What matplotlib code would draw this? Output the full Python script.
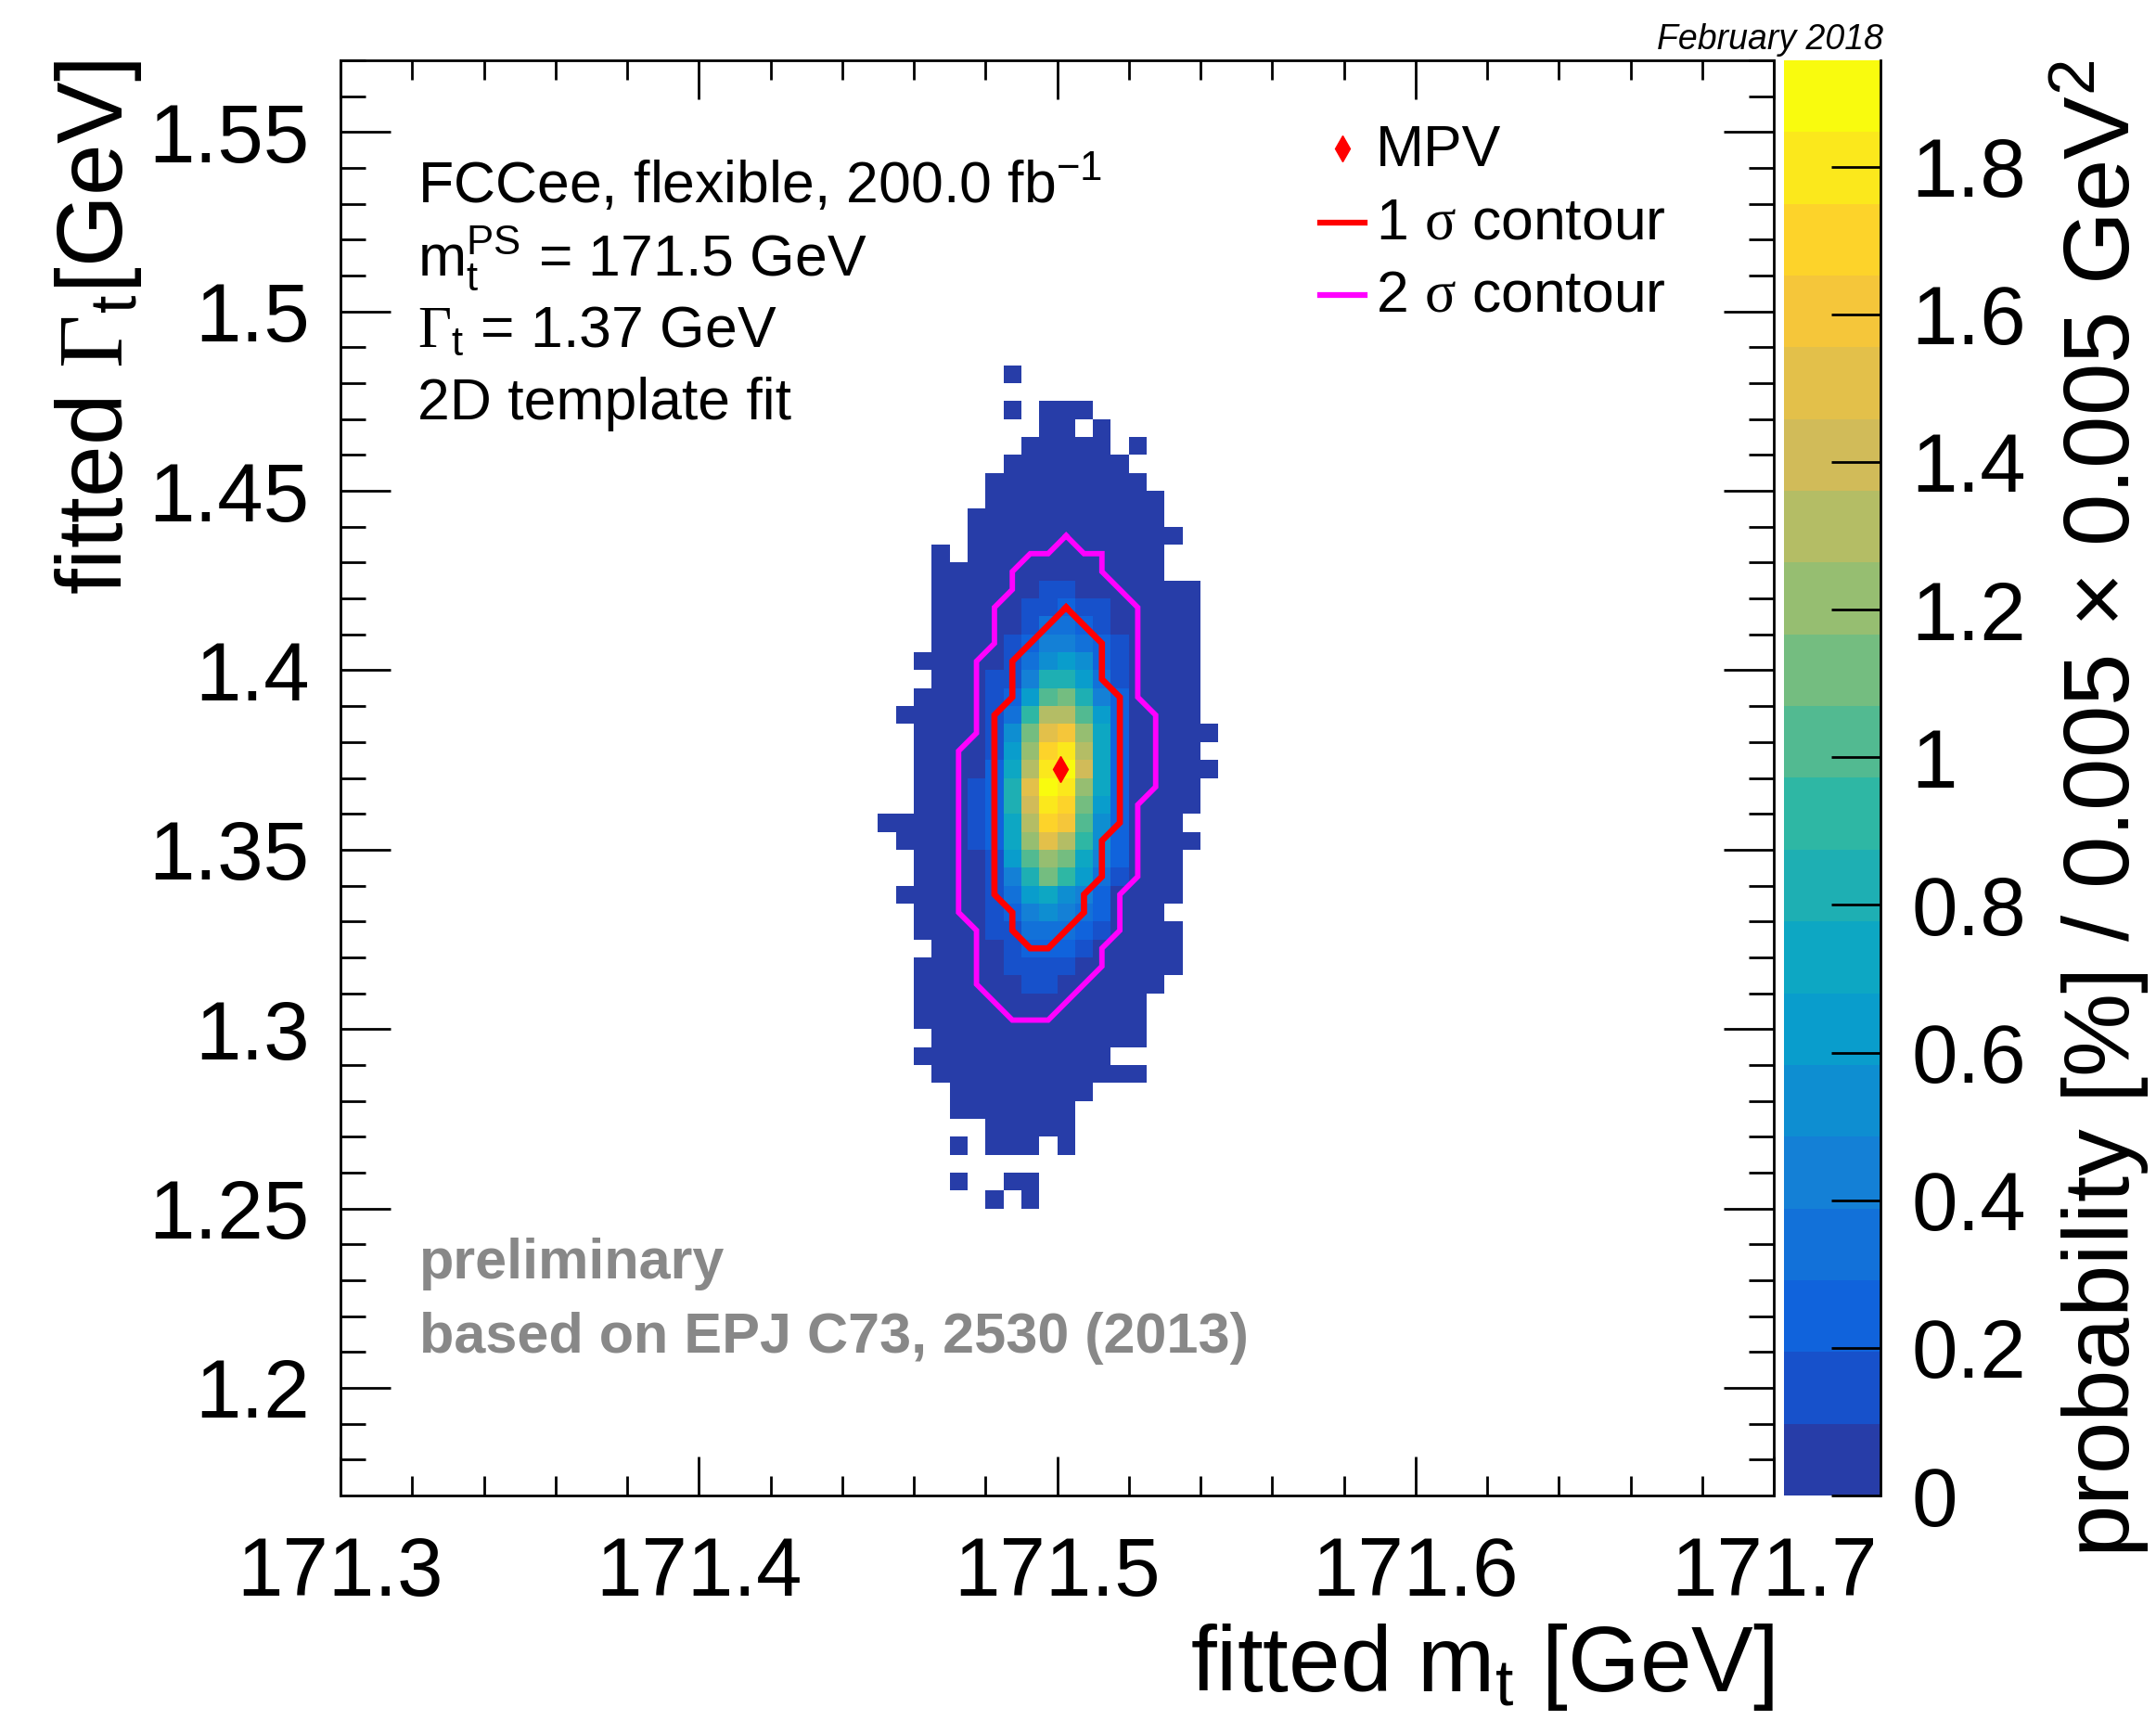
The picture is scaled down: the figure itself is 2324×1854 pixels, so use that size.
import numpy as np
import matplotlib
matplotlib.use('Agg')
import matplotlib.pyplot as plt
from matplotlib.colors import ListedColormap, BoundaryNorm
from matplotlib.lines import Line2D
from matplotlib.ticker import FixedLocator, NullLocator

plt.rcParams['font.family'] = ['Liberation Sans', 'DejaVu Sans']
plt.rcParams['mathtext.fontset'] = 'custom'
plt.rcParams['mathtext.rm'] = 'Liberation Serif'
plt.rcParams['mathtext.sf'] = 'Liberation Sans'
plt.rcParams['mathtext.it'] = 'Liberation Sans:italic'

W, H = 2324, 1854

# binning of the template histogram (GeV)
x_edges = np.linspace(171.3, 171.7, 81)
y_edges = np.linspace(1.17, 1.57, 81)
z_max = 1.944
n_levels = 20

# colour level of each bin ('.' = empty, 0-9 then a-j = 10-19)
# columns: x bins 30..48, rows: y bins 62 (top) down to 16
first_col = 30
top_row = 62
level_rows = [
    ".......0...........",
    "...................",
    ".......0.000.......",
    ".........00.0......",
    "........00000.0....",
    ".......0000000.....",
    "......000000000....",
    "......0000000000...",
    ".....00000000000...",
    ".....000000000000..",
    "...0.00000000000...",
    "...0000000000000...",
    "...000000110000000.",
    "...000001121100000.",
    "...000001332100000.",
    "...000012443210000.",
    "..0000013565210000.",
    "...000114886310000.",
    "..0000126ab8420000.",
    ".00000139dda620000.",
    "..000015bfgc7200000",
    "..000016chid720000.",
    "..000027dije7200000",
    "..000128fjic720000.",
    "..000128eihb620000.",
    "00000127dhga52000..",
    ".0000127cfd9520000.",
    "..000016acb742000..",
    "..0000148b9631000..",
    ".0000013675420000..",
    "..00001245432000...",
    "..000011333210000..",
    "...00001222100000..",
    "..000001111000000..",
    "..00000011000000...",
    "..0000000000000....",
    "..0000000000000....",
    "...000000000000....",
    "..00000000000......",
    "...000000000000....",
    "....00000000.......",
    "....0000000........",
    "......00000........",
    "....0.000.0........",
    "...................",
    "....0..00..........",
    "......0.0..........",
]

# most probable value
mpv_x = [171.501]
mpv_y = [1.3725]

# 1 sigma contour
c1_x = [171.5025, 171.5125, 171.5125, 171.5175, 171.5175, 171.5125, 171.5125, 171.5075,
        171.5075, 171.4975, 171.4925, 171.4875, 171.4875, 171.4825, 171.4825, 171.4875,
        171.4875, 171.5025]
c1_y = [1.4175, 1.4075, 1.3975, 1.3925, 1.3575, 1.3525, 1.3425, 1.3375,
        1.3325, 1.3225, 1.3225, 1.3275, 1.3325, 1.3375, 1.3875, 1.3925,
        1.4025, 1.4175]

# 2 sigma contour
c2_x = [171.5025, 171.5075, 171.5125, 171.5125, 171.5225, 171.5225, 171.5275, 171.5275,
        171.5225, 171.5225, 171.5175, 171.5175, 171.5125, 171.5125, 171.4975, 171.4875,
        171.4775, 171.4775, 171.4725, 171.4725, 171.4775, 171.4775, 171.4825, 171.4825,
        171.4875, 171.4875, 171.4925, 171.4975, 171.5025]
c2_y = [1.4375, 1.4325, 1.4325, 1.4275, 1.4175, 1.3925, 1.3875, 1.3675,
        1.3625, 1.3425, 1.3375, 1.3275, 1.3225, 1.3175, 1.3025, 1.3025,
        1.3125, 1.3275, 1.3325, 1.3775, 1.3825, 1.4025, 1.4075, 1.4175,
        1.4225, 1.4275, 1.4325, 1.4325, 1.4375]

x_ticks = [171.3, 171.4, 171.5, 171.6, 171.7]
y_ticks = [1.2, 1.25, 1.3, 1.35, 1.4, 1.45, 1.5, 1.55]
z_ticks = [0, 0.2, 0.4, 0.6, 0.8, 1.0, 1.2, 1.4, 1.6, 1.8]
z_labels = ['0', '0.2', '0.4', '0.6', '0.8', '1', '1.2', '1.4', '1.6', '1.8']


def bird_colors(n):
    # ROOT kBird palette, sampled the way THistPainter picks contour colours
    stops = [0.0, 0.125, 0.25, 0.375, 0.5, 0.625, 0.75, 0.875, 1.0]
    red = [0.2082, 0.0592, 0.0780, 0.0232, 0.1802, 0.5301, 0.8186, 0.9956, 0.9764]
    green = [0.1664, 0.3599, 0.5041, 0.6419, 0.7178, 0.7492, 0.7328, 0.7862, 0.9832]
    blue = [0.5293, 0.8684, 0.8385, 0.7914, 0.6425, 0.4662, 0.3499, 0.1968, 0.0539]
    cols = []
    for k in range(n):
        f = int((k + 0.99) * 255 / n) / 254.0
        cols.append((np.interp(f, stops, red), np.interp(f, stops, green),
                     np.interp(f, stops, blue)))
    return cols


def decode(ch):
    if ch == '.':
        return np.nan
    if ch.isdigit():
        return int(ch)
    return 10 + ord(ch) - ord('a')


z = np.full((80, 80), np.nan)
for r, row in enumerate(level_rows):
    assert len(row) == 19
    for c, ch in enumerate(row):
        lvl = decode(ch)
        if not np.isnan(lvl):
            z[top_row - r, first_col + c] = (lvl + 0.5) * z_max / n_levels


def fx(px):
    return px / W


def fy(py):
    return 1 - py / H


fig = plt.figure(figsize=(W / 100, H / 100), dpi=100)
ax = fig.add_axes([fx(367), fy(1612), (1912 - 367) / W, (1612 - 65) / H])
cax = fig.add_axes([fx(1923), fy(1612), (2027 - 1923) / W, (1612 - 65) / H])

cmap = ListedColormap(bird_colors(n_levels))
norm = BoundaryNorm(np.linspace(0, z_max, n_levels + 1), n_levels)
mesh = ax.pcolormesh(x_edges, y_edges, np.ma.masked_invalid(z), cmap=cmap, norm=norm)

ax.plot(c2_x, c2_y, color='#ff00ff', lw=4.2, solid_joinstyle='miter')
ax.plot(c1_x, c1_y, color='red', lw=4.8, solid_joinstyle='miter')
ax.plot(mpv_x, mpv_y, ls='none', marker='d', color='red', ms=14)

ax.set_xlim(171.3, 171.7)
ax.set_ylim(1.17, 1.57)
ax.xaxis.set_major_locator(FixedLocator(x_ticks))
ax.xaxis.set_minor_locator(FixedLocator(np.arange(171.3, 171.701, 0.02)))
ax.yaxis.set_major_locator(FixedLocator(y_ticks))
ax.yaxis.set_minor_locator(FixedLocator(np.arange(1.18, 1.571, 0.01)))
ax.xaxis.set_major_formatter(matplotlib.ticker.FormatStrFormatter('%g'))
ax.yaxis.set_major_formatter(matplotlib.ticker.FormatStrFormatter('%g'))
ax.tick_params(which='both', direction='in', top=True, right=True, width=2, labelsize=64)
ax.tick_params(axis='x', which='major', length=30, pad=31)
ax.tick_params(axis='x', which='minor', length=15)
ax.tick_params(axis='y', which='major', length=39, pad=24)
ax.tick_params(axis='y', which='minor', length=19.5)
for s in ax.spines.values():
    s.set_linewidth(2)

cb = fig.colorbar(mesh, cax=cax, ticks=z_ticks)
cb.outline.set_visible(False)
cax.set_yticklabels(z_labels)
cax.yaxis.set_minor_locator(NullLocator())
cax.tick_params(direction='in', length=38, width=2, labelsize=64, pad=24)
cax.spines['right'].set_visible(True)
cax.spines['right'].set_linewidth(2)

fig.text(fx(1912), fy(1823), r'fitted m$_{\mathsf{t}}$ [GeV]', ha='right', va='baseline', fontsize=72)
fig.text(fx(132), fy(65), r'fitted $\mathrm{\Gamma}_{\mathsf{t}}$[GeV]', rotation=90,
         rotation_mode='anchor', ha='right', va='baseline', fontsize=72)
fig.text(fx(2297), fy(65), r'probability [%] / 0.005 × 0.005 GeV$^{\mathsf{2}}$', rotation=90,
         rotation_mode='anchor', ha='right', va='baseline', fontsize=73)

fig.text(fx(450), fy(218), r'FCCee, flexible, 200.0 fb$^{\mathsf{-1}}$', fontsize=45, va='baseline')
fig.text(fx(450), fy(297), r'm$_{\mathsf{t}}^{\mathsf{PS}}$ = 171.5 GeV', fontsize=45, va='baseline')
fig.text(fx(450), fy(374), r'$\mathrm{\Gamma}_{\mathsf{t}}$ = 1.37 GeV', fontsize=45, va='baseline')
fig.text(fx(450), fy(452), '2D template fit', fontsize=45, va='baseline')

fig.text(fx(452), fy(1378), 'preliminary', fontsize=44, fontweight='bold', color='#888888', va='baseline')
fig.text(fx(452), fy(1458), 'based on EPJ C73, 2530 (2013)', fontsize=44, fontweight='bold',
         color='#888888', va='baseline')

fig.text(fx(2030), fy(53), 'February 2018', fontsize=27, style='italic', ha='right', va='baseline')

# legend
fig.add_artist(Line2D([fx(1447)], [fy(160)], ls='none', marker='d', color='red', ms=14))
fig.add_artist(Line2D([fx(1423), fx(1471)], [fy(240), fy(240)], color='red', lw=4.5))
fig.add_artist(Line2D([fx(1423), fx(1471)], [fy(318), fy(318)], color='#ff00ff', lw=4.5))
fig.text(fx(1483), fy(179), 'MPV', fontsize=45, va='baseline')
fig.text(fx(1483), fy(257), r'1 $\mathrm{\sigma}$ contour', fontsize=45, va='baseline')
fig.text(fx(1483), fy(335), r'2 $\mathrm{\sigma}$ contour', fontsize=45, va='baseline')

fig.savefig('out.png', dpi=100)
